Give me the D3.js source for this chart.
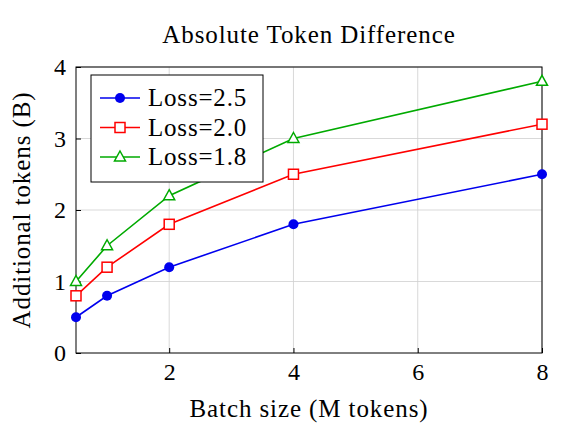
<!DOCTYPE html>
<html><head><meta charset="utf-8">
<script src="https://cdn.jsdelivr.net/npm/d3@7"></script>
<style>body{margin:0;background:#fff}text{font-family:"Liberation Serif","DejaVu Serif",serif}</style>
</head><body><svg id="c" width="568" height="437"></svg>
<script>
const batchSizes = [0.5, 1, 2, 4, 8];
const loss25 = [0.5, 0.8, 1.2, 1.8, 2.5];
const loss20 = [0.8, 1.2, 1.8, 2.5, 3.2];
const loss18 = [1.0, 1.5, 2.2, 3.0, 3.8];
const xTicks = [2, 4, 6, 8];
const yTicks = [0, 1, 2, 3, 4];

const series = [
  { name: 'Loss=2.5', values: loss25, color: '#0000ee', marker: 'circle' },
  { name: 'Loss=2.0', values: loss20, color: '#ff0000', marker: 'square' },
  { name: 'Loss=1.8', values: loss18, color: '#00aa00', marker: 'triangle' }
];

const svg = d3.select('#c');
const L = 76, R = 542, T = 67, B = 353;
const x = d3.scaleLinear().domain([0.5, 8]).range([L, R]);
const y = d3.scaleLinear().domain([0, 4]).range([B, T]);

// grid
svg.append('g').selectAll('line').data(xTicks).join('line')
  .attr('x1', d => x(d)).attr('x2', d => x(d)).attr('y1', T).attr('y2', B)
  .attr('stroke', '#cfcfcf').attr('stroke-width', 0.8);
svg.append('g').selectAll('line').data(yTicks.slice(1)).join('line')
  .attr('y1', d => y(d)).attr('y2', d => y(d)).attr('x1', L).attr('x2', R)
  .attr('stroke', '#cfcfcf').attr('stroke-width', 0.8);

// axes (ticks inward)
const ax = svg.append('g').attr('transform', `translate(0,${B})`)
  .call(d3.axisBottom(x).tickValues(xTicks).tickFormat(d3.format('d')).tickSize(-5).tickPadding(10));
const ay = svg.append('g').attr('transform', `translate(${L},0)`)
  .call(d3.axisLeft(y).tickValues(yTicks).tickFormat(d3.format('d')).tickSize(-5).tickPadding(10));
[ax, ay].forEach(a => {
  a.select('.domain').remove();
  a.selectAll('text').attr('font-size', 24).attr('fill', '#000')
    .style('font-family', '"Liberation Serif",serif');
});
svg.append('rect').attr('x', L).attr('y', T).attr('width', R - L).attr('height', B - T)
  .attr('fill', 'none').attr('stroke', '#000').attr('stroke-width', 1);

function marker(g, type, color, cx, cy) {
  if (type === 'circle') g.append('circle').attr('cx', cx).attr('cy', cy).attr('r', 5).attr('fill', color);
  else if (type === 'square') g.append('rect').attr('x', cx - 5).attr('y', cy - 5).attr('width', 10).attr('height', 10)
    .attr('fill', '#fff').attr('stroke', color).attr('stroke-width', 1.5);
  else g.append('path').attr('d', `M${cx},${cy - 6}L${cx + 5.5},${cy + 4}L${cx - 5.5},${cy + 4}Z`)
    .attr('fill', '#fff').attr('stroke', color).attr('stroke-width', 1.5);
}

const line = d3.line().x((d, i) => x(batchSizes[i])).y(d => y(d));
series.forEach(s => {
  const g = svg.append('g');
  g.append('path').attr('d', line(s.values)).attr('fill', 'none').attr('stroke', s.color).attr('stroke-width', 1.6);
  s.values.forEach((v, i) => marker(g, s.marker, s.color, x(batchSizes[i]), y(v)));
});

// legend
const lg = svg.append('g');
lg.append('rect').attr('x', 91).attr('y', 75).attr('width', 172).attr('height', 107)
  .attr('fill', '#fff').attr('stroke', '#000').attr('stroke-width', 1);
series.forEach((s, i) => {
  const cy = 98 + i * 29.5;
  lg.append('line').attr('x1', 100).attr('x2', 140).attr('y1', cy).attr('y2', cy)
    .attr('stroke', s.color).attr('stroke-width', 1.6);
  marker(lg, s.marker, s.color, 120, cy);
  lg.append('text').attr('x', 148).attr('y', cy + 8).attr('font-size', 25)
    .attr('letter-spacing', 0.8).text(s.name);
});

const labelStyle = t => t.attr('text-anchor', 'middle').attr('font-size', 25).attr('letter-spacing', 0.9);
svg.append('text').attr('x', 309).attr('y', 43).call(labelStyle).text('Absolute Token Difference');
svg.append('text').attr('x', 309).attr('y', 417).call(labelStyle).text('Batch size (M tokens)');
svg.append('text').attr('transform', 'translate(30,210) rotate(-90)').call(labelStyle)
  .text('Additional tokens (B)');
</script></body></html>
